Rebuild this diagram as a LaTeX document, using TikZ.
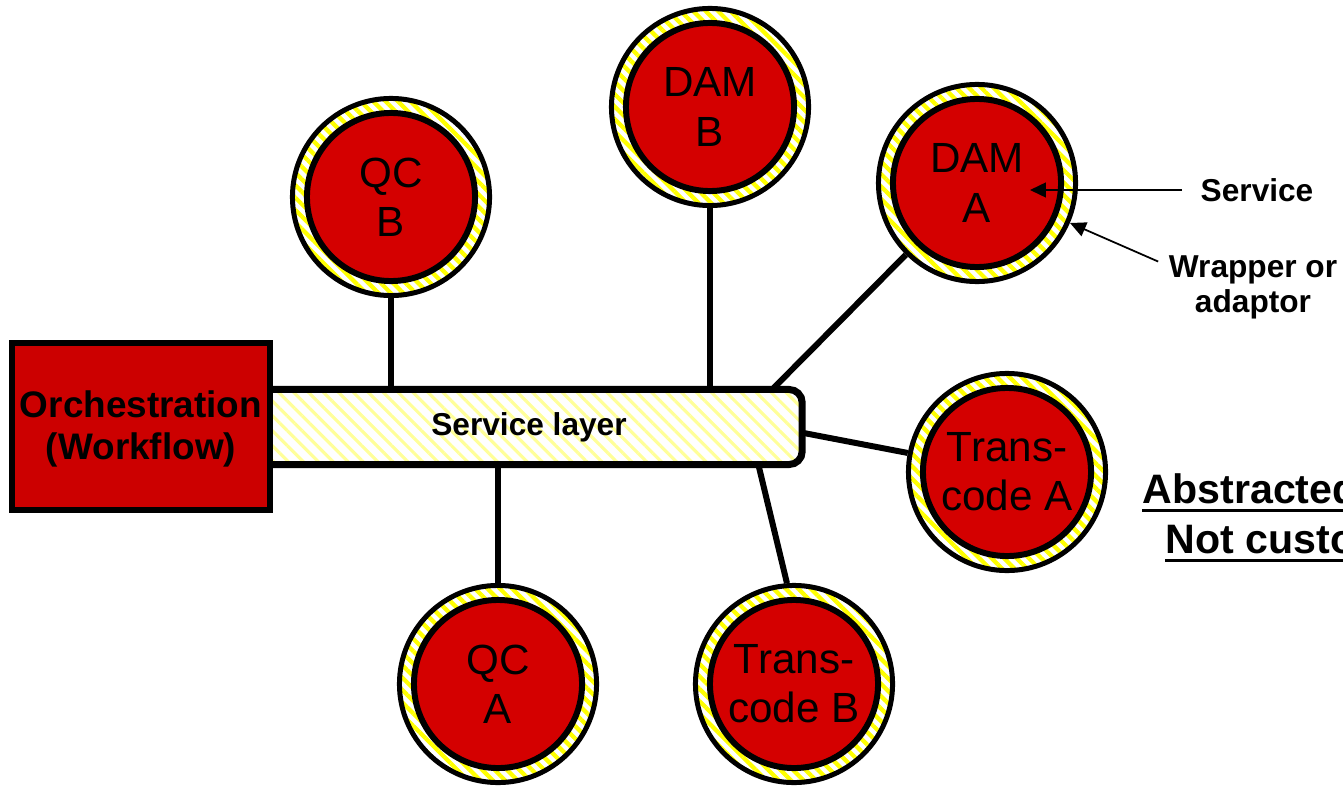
\documentclass[tikz,border=0pt]{standalone}
\usepackage{fontspec}
\setmainfont{Liberation Sans}
\usetikzlibrary{patterns.meta,arrows.meta,calc}
\definecolor{svcred}{HTML}{D40000}
\definecolor{orchred}{HTML}{CC0000}
\definecolor{ringyellow}{HTML}{FFFF00}
\definecolor{layeryellow}{HTML}{FFFF99}
\begin{document}
\begin{tikzpicture}[x=0.01cm,y=-0.01cm,
  wrapring/.style={circle,draw,line width=1.42pt,minimum size=1.97cm,inner sep=0pt,
    pattern={Lines[angle=-45,distance=2.5pt,line width=1.2pt]},pattern color=ringyellow},
  svc/.style={circle,draw,line width=1.7pt,fill=svcred,minimum size=1.68cm,inner sep=0pt,
    align=center,font=\fontsize{12}{14}\selectfont},
  layer/.style={rectangle,draw,line width=2pt,rounded corners=1.3mm,
    minimum width=5.46cm,minimum height=0.75cm,inner sep=0pt,
    pattern={Lines[angle=-45,distance=3pt,line width=0.9pt]},pattern color=layeryellow,
    font=\bfseries\fontsize{9}{10}\selectfont},
  orchbox/.style={rectangle,draw,fill=orchred,line width=1.6pt,minimum width=2.58cm,
    minimum height=1.67cm,inner sep=0pt,align=center,font=\bfseries\fontsize{10.5}{12}\selectfont},
  link/.style={line width=1.7pt},
  callout/.style={line width=0.5pt,-{Triangle[length=4.5pt,width=4.2pt]}},
  lbl/.style={font=\bfseries\fontsize{9}{10}\selectfont,align=center},
  abst/.style={font=\bfseries\fontsize{11.7}{14}\selectfont,inner sep=0pt,anchor=base west},
  uline/.style={line width=0.85pt}
]
\useasboundingbox (0,0) rectangle (1343,785);
\clip (0,0) rectangle (1343,785);

% service layer and orchestration
\node[layer] (sl) at (529,427) {Service layer};
\node[orchbox] (orch) at (141,426.5) {\rule{0pt}{9pt}Orchestration\\(Workflow)};

% services
\node[wrapring] (qcbW) at (391,197) {};
\node[svc] (qcb) at (391,197) {QC\\B};
\node[wrapring] (dambW) at (710,107) {};
\node[svc] (damb) at (710,107) {DAM\\B};
\node[wrapring] (damaW) at (977,183) {};
\node[svc] (dama) at (977,183) {DAM\\A};
\node[wrapring] (taW) at (1007,472) {};
\node[svc] (ta) at (1007,472) {Trans-\\code A};
\node[wrapring] (tbW) at (794,684) {};
\node[svc] (tb) at (794,684) {Trans-\\code B};
\node[wrapring] (qcaW) at (498,684) {};
\node[svc] (qca) at (498,684) {QC\\A};

% connectors
\draw[link] (qcbW) -- (qcbW |- sl.north);
\draw[link] (dambW) -- (dambW |- sl.north);
\draw[link] (damaW) -- ([xshift=-0.3cm]sl.north east);
\draw[link] ([yshift=-0.06cm]sl.east) -- (taW);
\draw[link] ([xshift=-0.45cm]sl.south east) -- (tbW.94);
\draw[link] (qcaW |- sl.south) -- (qcaW);

% callouts
\node[lbl,inner xsep=1.8mm,inner ysep=0pt,anchor=west] (svclbl) at (1182,190) {Service};
\coordinate (svcTip) at (1030,190);
\draw[callout] (svclbl.west) -- (svcTip);
\node[lbl,inner sep=0pt] (wraplbl) at (1253,287) {Wrapper or\\adaptor};
\coordinate (wrapTip) at (1070,223);
\draw[callout] ([xshift=-0.1cm,yshift=-0.07cm]wraplbl.north west) -- (wrapTip);

% abstracted note
\node[abst] (abs1) at (1142,503) {Abstracted};
\draw[uline] ([yshift=-2pt]abs1.base west) -- ([yshift=-2pt]abs1.base east);
\node[abst] (abs2) at (1165,553) {Not custo};
\draw[uline] ([yshift=-2pt]abs2.base west) -- ([yshift=-2pt]abs2.base east);
\end{tikzpicture}
\end{document}
